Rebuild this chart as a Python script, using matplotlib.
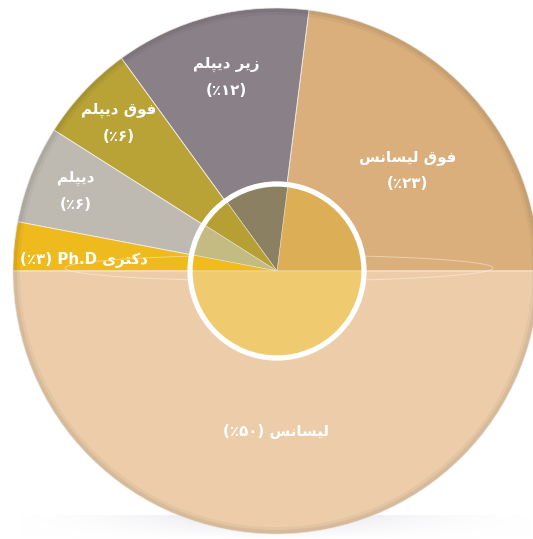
import matplotlib
matplotlib.use('Agg')
import matplotlib.pyplot as plt
from matplotlib.patches import Circle, Wedge, Ellipse
import numpy as np

# data, counterclockwise from 3 o'clock
names = ['فوق لیسانس', 'زیر دیپلم', 'فوق دیپلم', 'دیپلم', 'دکتری Ph.D', 'لیسانس']
shares = [23, 12, 6, 6, 3, 50]
outer_colors = ['#DBAF7C', '#8A8188', '#B9A236', '#BEBAB2', '#EFBA1E', '#EDCDA9']
inner_colors = ['#DCAE55', '#8B8062', '#B6A034', '#C3BB82', '#EFBB1F', '#EFCA6E']
one_line = [False, False, False, False, True, True]
label_r = [0.63, 0.76, 0.82, 0.82, 0.73, 0.61]
label_dang = [-4, 0, 0, 0, 1.8, 0]

# presentation forms: isolated, final, initial, medial
forms = {
    'ا': ('\uFE8D', '\uFE8E', None, None),
    'ل': ('\uFEDD', '\uFEDE', '\uFEDF', '\uFEE0'),
    'ی': ('\uFBFC', '\uFBFD', '\uFBFE', '\uFBFF'),
    'س': ('\uFEB1', '\uFEB2', '\uFEB3', '\uFEB4'),
    'ن': ('\uFEE5', '\uFEE6', '\uFEE7', '\uFEE8'),
    'ف': ('\uFED1', '\uFED2', '\uFED3', '\uFED4'),
    'و': ('\uFEED', '\uFEEE', None, None),
    'ق': ('\uFED5', '\uFED6', '\uFED7', '\uFED8'),
    'ز': ('\uFEAF', '\uFEB0', None, None),
    'ر': ('\uFEAD', '\uFEAE', None, None),
    'د': ('\uFEA9', '\uFEAA', None, None),
    'پ': ('\uFB56', '\uFB57', '\uFB58', '\uFB59'),
    'م': ('\uFEE1', '\uFEE2', '\uFEE3', '\uFEE4'),
    'ک': ('\uFB8E', '\uFB8F', '\uFB90', '\uFB91'),
    'ت': ('\uFE95', '\uFE96', '\uFE97', '\uFE98'),
}


def shape_word(w):
    out = []
    for i, c in enumerate(w):
        if c not in forms:
            out.append(c)
            continue
        prev_j = i > 0 and w[i - 1] in forms and forms[w[i - 1]][2] is not None
        next_j = i < len(w) - 1 and w[i + 1] in forms and forms[c][2] is not None
        f = forms[c]
        if prev_j and next_j:
            out.append(f[3])
        elif prev_j:
            out.append(f[1])
        elif next_j:
            out.append(f[2])
        else:
            out.append(f[0])
    return ''.join(out)


def visual(s):
    toks = []
    for t in s.split(' '):
        if any(c in forms for c in t):
            toks.append(shape_word(t)[::-1])
        else:
            toks.append(t)
    return ' '.join(toks[::-1])


def fa_num(v):
    return str(v).translate(str.maketrans('0123456789', '۰۱۲۳۴۵۶۷۸۹'))


W, H = 533, 539
fig = plt.figure(figsize=(W / 100, H / 100), dpi=100)
ax = fig.add_axes([0, 0, 1, 1])

cx, cy, R = 276, H - 271, 263
r_in = 87

# soft grey shadow under the disc, fading out
gy = np.linspace(1, 0, 40)[:, None]
gx = np.exp(-((np.linspace(-1, 1, 200)) / 0.55) ** 2)[None, :]
shade = np.zeros((40, 200, 4))
shade[..., :3] = np.array([0.86, 0.86, 0.9])
shade[..., 3] = gy * gx * 0.7
ax.imshow(shade, extent=(20, 530, 0, 24), aspect='auto', zorder=0)

wedges, _ = ax.pie(shares, colors=outer_colors, startangle=0, counterclock=True,
                   center=(cx, cy), radius=R,
                   wedgeprops=dict(edgecolor='#F2EDE6', linewidth=0.6))
for w in wedges:
    w.set_zorder(1)

# darker rim
ax.add_patch(Wedge((cx, cy), R, 0, 360, width=4, facecolor='black', alpha=0.09,
                   edgecolor='none', zorder=2))
ax.add_patch(Wedge((cx, cy), R - 4, 0, 360, width=3, facecolor='black', alpha=0.035,
                   edgecolor='none', zorder=2))

# faint ellipse across the middle
ax.add_patch(Ellipse((cx + 3, cy + 3), 428, 26, fill=False, edgecolor='white',
                     alpha=0.4, linewidth=0.7, zorder=3))

# inner lens
inner, _ = ax.pie(shares, colors=inner_colors, startangle=0, counterclock=True,
                  center=(cx + 1, cy), radius=r_in,
                  wedgeprops=dict(edgecolor='#E9E2D2', linewidth=0.4))
for w in inner:
    w.set_zorder(4)
ax.add_patch(Circle((cx + 1, cy), r_in, fill=False, edgecolor='white', linewidth=3.8, zorder=5))

# labels
txt = dict(ha='center', va='center', color='white', fontsize=10.8,
           fontweight='bold', family='DejaVu Sans', zorder=6)
for w, name, v, single, lr, da in zip(wedges, names, shares, one_line, label_r, label_dang):
    ang = np.deg2rad((w.theta1 + w.theta2) / 2 + da)
    x = cx + lr * R * np.cos(ang)
    y = cy + lr * R * np.sin(ang)
    pct = '(٪' + fa_num(v) + ')'
    if single:
        ax.text(x, y, pct + ' ' + visual(name), **txt)
    else:
        ax.text(x, y + 13, visual(name), **txt)
        ax.text(x, y - 13, pct, **txt)

ax.set_xlim(0, W)
ax.set_ylim(0, H)
ax.set_aspect('auto')
ax.axis('off')
fig.savefig('out.png', dpi=100, facecolor='white')
